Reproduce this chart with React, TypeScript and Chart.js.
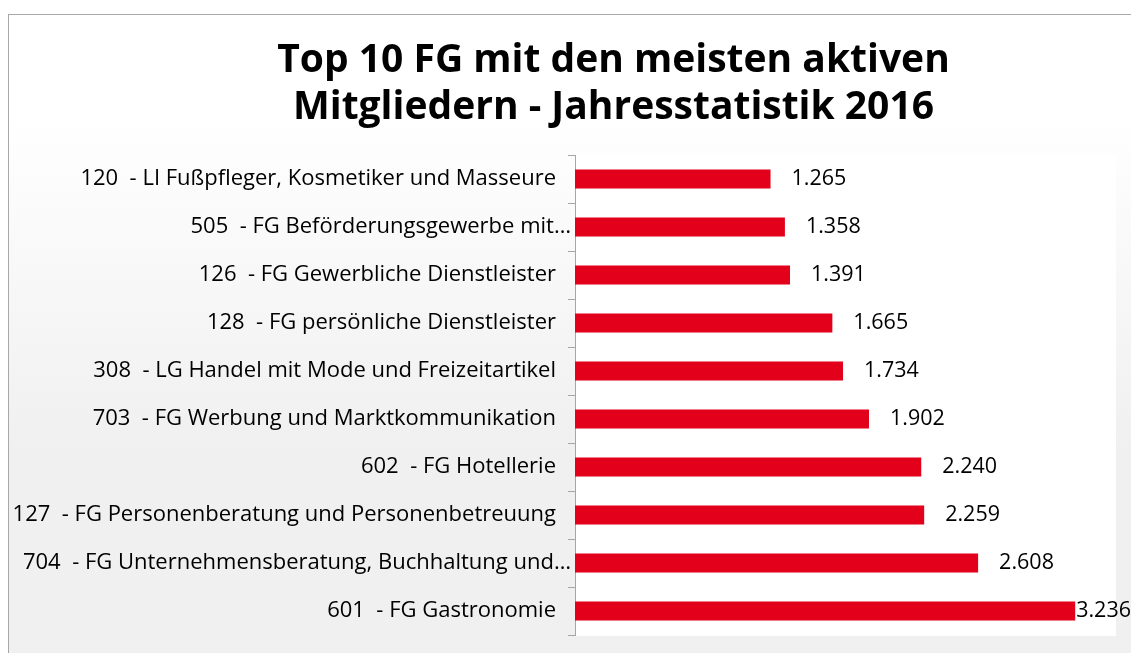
import { useEffect, useRef } from 'react';
import { Chart, registerables } from 'chart.js';

Chart.register(...registerables);

const categories: string[] = [
  '120  - LI Fußpfleger, Kosmetiker und Masseure',
  '505  - FG Beförderungsgewerbe mit…',
  '126  - FG Gewerbliche Dienstleister',
  '128  - FG persönliche Dienstleister',
  '308  - LG Handel mit Mode und Freizeitartikel',
  '703  - FG Werbung und Marktkommunikation',
  '602  - FG Hotellerie',
  '127  - FG Personenberatung und Personenbetreuung',
  '704  - FG Unternehmensberatung, Buchhaltung und…',
  '601  - FG Gastronomie',
];

const activeMembers: number[] = [1265, 1358, 1391, 1665, 1734, 1902, 2240, 2259, 2608, 3236];

const titleLines: string[] = ['Top 10 FG mit den meisten aktiven', 'Mitgliedern - Jahresstatistik 2016'];

const axisMin = 0;
const axisMax = 3500;

const FONT = "'Open Sans', 'Noto Sans', sans-serif";
const TICK_LEN = 7;
const TICK_PAD = 12;

function formatDe(n: number): string {
  const s = Math.round(n).toString();
  return s.replace(/\B(?=(\d{3})+(?!\d))/g, '.');
}

const framePlugin = {
  id: 'frameAndTitle',
  beforeDraw(chart: any) {
    const { ctx, width, height, chartArea } = chart;
    ctx.save();
    const g = ctx.createLinearGradient(0, 100, 0, 430);
    g.addColorStop(0, '#ffffff');
    g.addColorStop(1, '#f0f0f0');
    ctx.fillStyle = g;
    ctx.fillRect(0, 0, width, height);
    ctx.fillStyle = '#ffffff';
    ctx.fillRect(chartArea.left, chartArea.top, chartArea.right - chartArea.left, chartArea.bottom - chartArea.top + 1);
    ctx.strokeStyle = '#a8a8a8';
    ctx.lineWidth = 1;
    ctx.strokeRect(0.5, 0.5, width - 1, height - 1);
    ctx.fillStyle = '#000000';
    ctx.font = `bold 39px ${FONT}`;
    ctx.textAlign = 'center';
    ctx.textBaseline = 'alphabetic';
    const cx = width / 2;
    titleLines.forEach((line, i) => {
      ctx.fillText(line, cx, 58 + i * 47);
    });
    ctx.restore();
  },
  afterDatasetsDraw(chart: any) {
    const { ctx, chartArea } = chart;
    const meta = chart.getDatasetMeta(0);
    ctx.save();
    ctx.font = `21.5px ${FONT}`;
    ctx.fillStyle = '#000000';
    ctx.textAlign = 'left';
    ctx.textBaseline = 'middle';
    meta.data.forEach((bar: any, i: number) => {
      const text = formatDe(activeMembers[i]);
      const w = ctx.measureText(text).width;
      const x = Math.min(bar.x + 21, chartArea.right + 15 - w);
      ctx.fillText(text, x, bar.y);
    });
    // category labels (truncated ones run up to the axis, as in the original)
    const yScale = chart.scales.y;
    ctx.font = `22px ${FONT}`;
    ctx.textAlign = 'right';
    categories.forEach((label, i) => {
      const py = yScale.getPixelForTick(i);
      const truncated = label.endsWith('…');
      const x = yScale.right - TICK_LEN - TICK_PAD + (truncated ? 15 : 0);
      ctx.fillText(label, x, py);
    });
    ctx.restore();
  },
};

export default function App() {
  const canvasRef = useRef<HTMLCanvasElement | null>(null);

  useEffect(() => {
    if (!canvasRef.current) return;
    const chart = new Chart(canvasRef.current, {
      type: 'bar',
      data: {
        labels: categories,
        datasets: [
          {
            data: activeMembers,
            backgroundColor: '#e2001a',
            borderWidth: 0,
            categoryPercentage: 1,
            barPercentage: 0.4,
          },
        ],
      },
      options: {
        indexAxis: 'y',
        responsive: false,
        animation: false,
        layout: { padding: { left: 0, top: 141, right: 103, bottom: 39 } },
        plugins: {
          legend: { display: false },
          tooltip: { enabled: false },
          title: { display: false },
        },
        scales: {
          x: { display: false, min: axisMin, max: axisMax },
          y: {
            afterFit(scale: any) {
              scale.width = 567;
            },
            grid: {
              drawOnChartArea: false,
              drawTicks: true,
              tickLength: TICK_LEN,
              color: '#a6a6a6',
              offset: true,
            },
            border: { display: true, color: '#a6a6a6' },
            ticks: {
              display: false,
              padding: TICK_PAD,
              autoSkip: false,
            },
          },
        },
      },
      plugins: [framePlugin],
    });
    return () => chart.destroy();
  }, []);

  return (
    <div style={{ position: 'absolute', left: 8, top: 14, width: 1123, height: 639, overflow: 'hidden' }}>
      <canvas ref={canvasRef} width={1211} height={660} style={{ display: 'block' }} />
    </div>
  );
}
